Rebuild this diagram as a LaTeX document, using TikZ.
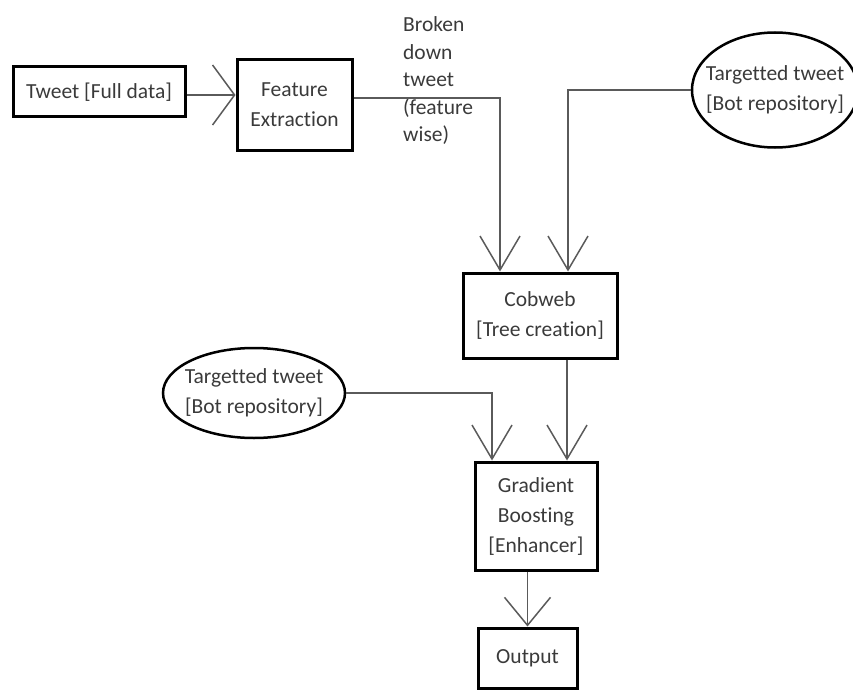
\documentclass[tikz,border=0pt]{standalone}
\usepackage{fontspec}
\setmainfont{Carlito}[Ligatures=NoCommon]
\usetikzlibrary{arrows.meta, positioning, shapes.geometric, calc}
\definecolor{ctext}{HTML}{3A3A3A}
\definecolor{cline}{HTML}{5A5A5A}
\tikzset{
  every picture/.style={font=\fontsize{21.5pt}{30pt}\selectfont},
  box/.style={draw=black, line width=3pt, align=center, inner sep=0pt, text=ctext},
  bubble/.style={ellipse, draw=black, line width=2.5pt, inner sep=0pt},
  txt/.style={align=center, inner sep=0pt, text=ctext},
  arrow/.style={-{Straight Barb[length=34pt, width=40pt]}, draw=cline, line width=1.5pt},
  note/.style={align=left, inner sep=0pt, text=ctext, font=\fontsize{21.5pt}{27.5pt}\selectfont},
}
\begin{document}
\begin{tikzpicture}[x=1pt, y=-1pt]
  \useasboundingbox (0,0) rectangle (853,690);
  % boxes
  \node[box, minimum width=172pt, minimum height=50pt] (tweet) at (99,92) {Tweet [Full data]};
  \node[box, minimum width=115pt, minimum height=90pt] (fe) at (294.5,105) {Feature\\Extraction};
  \node[box, minimum width=154pt, minimum height=85pt] (cob) at (540,315.5) {Cobweb\\{}[Tree creation]};
  \node[box, minimum width=122pt, minimum height=108pt] (gb) at (536,516) {Gradient\\Boosting\\{}[Enhancer]};
  \node[box, minimum width=99pt, minimum height=60pt] (out) at (527.5,658) {Output};
  % bot repositories
  \node[bubble, minimum width=166pt, minimum height=115pt] (botA) at (775,90) {};
  \node[txt] (botAtxt) at (botA) {Targetted tweet\\{}[Bot repository]};
  \node[bubble, minimum width=182pt, minimum height=90pt] (botB) at (254,393) {};
  \node[txt] (botBtxt) at (botB) {Targetted tweet\\{}[Bot repository]};
  \node[note, anchor=west] (bdt) at (403,81) {Broken\\down\\tweet\\(feature\\wise)};
  % connectors
  \draw[arrow, -{Straight Barb[length=22pt, width=60pt]}] ([yshift=-3pt]tweet.east) -- ([yshift=-3pt]tweet.east -| fe.west);
  \draw[arrow] ([yshift=7pt]fe.east) -| ([xshift=-40pt]cob.north);
  \draw[arrow] (botA.west) -| ([xshift=28pt]cob.north);
  \draw[arrow] ([xshift=27pt]cob.south) -- ([xshift=27pt]cob.south |- gb.north);
  \draw[arrow] (botB.east) -| ([xshift=-44pt]gb.north);
  \draw[arrow, -{Straight Barb[length=28pt, width=46pt]}] (gb.south -| out.north) -- (out.north);
\end{tikzpicture}
\end{document}
